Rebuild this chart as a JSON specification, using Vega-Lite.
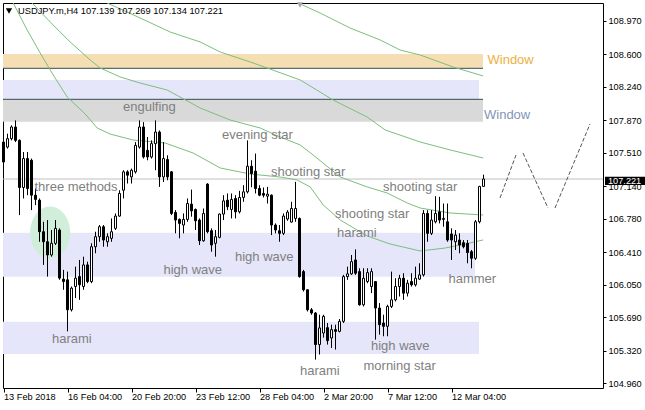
{
  "$schema": "https://vega.github.io/schema/vega-lite/v6.json",
  "width": 600,
  "height": 385,
  "autosize": {"type": "none"},
  "padding": {"left": 3, "top": 3, "right": 42, "bottom": 22},
  "background": "white",
  "config": {"view": {"stroke": "black", "strokeWidth": 1}, "axis": {"title": null, "grid": false}, "scale": {"continuousPadding": 0}},
  "datasets": {
    "zones": [
      {"x": -0.125, "x2": 119.875, "y": 108.603, "y2": 108.445, "k": "wheat"},
      {"x": -0.125, "x2": 118.875, "y": 108.316, "y2": 108.102, "k": "lav"},
      {"x": -0.125, "x2": 119.875, "y": 108.102, "y2": 107.855, "k": "gray"},
      {"x": -0.125, "x2": 117.875, "y": 106.627, "y2": 106.141, "k": "lav"},
      {"x": -0.125, "x2": 118.875, "y": 105.643, "y2": 105.286, "k": "lav"}
    ],
    "levels": [
      {"x": -0.125, "x2": 119.875, "y": 108.445},
      {"x": -0.125, "x2": 119.875, "y": 108.102}
    ],
    "ellipse": [{"x": 11.65, "y": 106.63}],
    "price": [{"x": -0.125, "x2": 149.875, "y": 107.221}],
    "ma": [
      {"s": "a", "x": 1.675, "y": 109.255}, {"s": "a", "x": 2.425, "y": 109.167}, {"s": "a", "x": 5.925, "y": 108.868}, {"s": "a", "x": 9.175, "y": 108.614}, {"s": "a", "x": 12.425, "y": 108.371}, {"s": "a", "x": 15.925, "y": 108.128}, {"s": "a", "x": 20.425, "y": 107.94}, {"s": "a", "x": 23.425, "y": 107.785}, {"s": "a", "x": 26.675, "y": 107.718}, {"s": "a", "x": 32.425, "y": 107.652}, {"s": "a", "x": 40.425, "y": 107.619}, {"s": "a", "x": 47.425, "y": 107.508}, {"s": "a", "x": 54.175, "y": 107.343}, {"s": "a", "x": 61.675, "y": 107.276}, {"s": "a", "x": 69.175, "y": 107.243}, {"s": "a", "x": 73.425, "y": 107.21}, {"s": "a", "x": 76.675, "y": 107.133}, {"s": "a", "x": 79.925, "y": 106.934}, {"s": "a", "x": 84.175, "y": 106.768}, {"s": "a", "x": 90.925, "y": 106.591}, {"s": "a", "x": 96.675, "y": 106.502}, {"s": "a", "x": 104.175, "y": 106.425}, {"s": "a", "x": 110.425, "y": 106.458}, {"s": "a", "x": 115.425, "y": 106.502}, {"s": "a", "x": 119.925, "y": 106.547},
      {"s": "b", "x": 5.425, "y": 109.255}, {"s": "b", "x": 7.175, "y": 109.167}, {"s": "b", "x": 11.675, "y": 108.957}, {"s": "b", "x": 16.675, "y": 108.736}, {"s": "b", "x": 21.675, "y": 108.537}, {"s": "b", "x": 24.175, "y": 108.448}, {"s": "b", "x": 29.175, "y": 108.349}, {"s": "b", "x": 34.175, "y": 108.282}, {"s": "b", "x": 40.925, "y": 108.205}, {"s": "b", "x": 49.175, "y": 108.006}, {"s": "b", "x": 56.675, "y": 107.873}, {"s": "b", "x": 64.175, "y": 107.785}, {"s": "b", "x": 69.175, "y": 107.685}, {"s": "b", "x": 74.175, "y": 107.597}, {"s": "b", "x": 77.425, "y": 107.486}, {"s": "b", "x": 84.175, "y": 107.243}, {"s": "b", "x": 90.925, "y": 107.133}, {"s": "b", "x": 95.925, "y": 107.066}, {"s": "b", "x": 100.925, "y": 106.956}, {"s": "b", "x": 104.175, "y": 106.9}, {"s": "b", "x": 111.675, "y": 106.845}, {"s": "b", "x": 119.925, "y": 106.823},
      {"s": "c", "x": 22.95, "y": 109.255}, {"s": "c", "x": 25.925, "y": 109.167}, {"s": "c", "x": 34.175, "y": 109.001}, {"s": "c", "x": 41.675, "y": 108.846}, {"s": "c", "x": 49.175, "y": 108.736}, {"s": "c", "x": 54.175, "y": 108.625}, {"s": "c", "x": 61.675, "y": 108.515}, {"s": "c", "x": 65.925, "y": 108.448}, {"s": "c", "x": 74.175, "y": 108.316}, {"s": "c", "x": 82.425, "y": 108.094}, {"s": "c", "x": 90.925, "y": 107.906}, {"s": "c", "x": 95.425, "y": 107.763}, {"s": "c", "x": 104.175, "y": 107.63}, {"s": "c", "x": 111.675, "y": 107.542}, {"s": "c", "x": 119.925, "y": 107.453},
      {"s": "d", "x": 70.425, "y": 109.255}, {"s": "d", "x": 73.675, "y": 109.167}, {"s": "d", "x": 79.175, "y": 109.056}, {"s": "d", "x": 86.675, "y": 108.89}, {"s": "d", "x": 94.175, "y": 108.758}, {"s": "d", "x": 99.175, "y": 108.647}, {"s": "d", "x": 104.175, "y": 108.592}, {"s": "d", "x": 112.425, "y": 108.459}, {"s": "d", "x": 119.925, "y": 108.36}
    ],
    "candles": [
      {"x": 0, "o": 107.629, "h": 107.728, "l": 107.392, "c": 107.409},
      {"x": 1, "o": 107.574, "h": 107.722, "l": 107.557, "c": 107.667},
      {"x": 2, "o": 107.667, "h": 107.814, "l": 107.648, "c": 107.796},
      {"x": 3, "o": 107.796, "h": 107.869, "l": 107.629, "c": 107.648},
      {"x": 4, "o": 107.648, "h": 107.66, "l": 106.822, "c": 107.127},
      {"x": 5, "o": 107.127, "h": 107.519, "l": 107.006, "c": 107.447},
      {"x": 6, "o": 107.447, "h": 107.519, "l": 107.042, "c": 107.116},
      {"x": 7, "o": 107.428, "h": 107.447, "l": 106.877, "c": 107.042},
      {"x": 8, "o": 107.042, "h": 107.116, "l": 106.932, "c": 106.995},
      {"x": 9, "o": 106.987, "h": 107.006, "l": 106.527, "c": 106.638},
      {"x": 10, "o": 106.638, "h": 106.748, "l": 106.271, "c": 106.527},
      {"x": 11, "o": 106.527, "h": 106.767, "l": 106.142, "c": 106.381},
      {"x": 12, "o": 106.381, "h": 106.657, "l": 106.362, "c": 106.51},
      {"x": 13, "o": 106.51, "h": 106.767, "l": 106.491, "c": 106.675},
      {"x": 14, "o": 106.657, "h": 106.675, "l": 106.106, "c": 106.125},
      {"x": 15, "o": 106.114, "h": 106.216, "l": 105.996, "c": 106.087},
      {"x": 16, "o": 106.106, "h": 106.197, "l": 105.536, "c": 105.775},
      {"x": 17, "o": 105.775, "h": 106.032, "l": 105.756, "c": 106.014},
      {"x": 18, "o": 106.032, "h": 106.252, "l": 105.904, "c": 106.125},
      {"x": 19, "o": 106.142, "h": 106.326, "l": 105.885, "c": 106.051},
      {"x": 20, "o": 106.032, "h": 106.362, "l": 105.996, "c": 106.271},
      {"x": 21, "o": 106.271, "h": 106.307, "l": 106.069, "c": 106.087},
      {"x": 22, "o": 106.087, "h": 106.51, "l": 106.069, "c": 106.472},
      {"x": 23, "o": 106.472, "h": 106.638, "l": 106.4, "c": 106.583},
      {"x": 24, "o": 106.583, "h": 106.712, "l": 106.527, "c": 106.693},
      {"x": 25, "o": 106.693, "h": 106.712, "l": 106.472, "c": 106.546},
      {"x": 26, "o": 106.527, "h": 106.62, "l": 106.472, "c": 106.583},
      {"x": 27, "o": 106.565, "h": 106.785, "l": 106.527, "c": 106.638},
      {"x": 28, "o": 106.675, "h": 106.84, "l": 106.657, "c": 106.811},
      {"x": 29, "o": 106.811, "h": 107.097, "l": 106.804, "c": 107.061},
      {"x": 30, "o": 107.097, "h": 107.318, "l": 107.006, "c": 107.3},
      {"x": 31, "o": 107.3, "h": 107.318, "l": 107.171, "c": 107.263},
      {"x": 32, "o": 107.244, "h": 107.336, "l": 107.171, "c": 107.318},
      {"x": 33, "o": 107.3, "h": 107.629, "l": 107.281, "c": 107.593},
      {"x": 34, "o": 107.574, "h": 107.869, "l": 107.557, "c": 107.796},
      {"x": 35, "o": 107.796, "h": 107.85, "l": 107.447, "c": 107.465},
      {"x": 36, "o": 107.538, "h": 107.685, "l": 107.428, "c": 107.465},
      {"x": 37, "o": 107.465, "h": 107.648, "l": 107.447, "c": 107.612},
      {"x": 38, "o": 107.612, "h": 107.869, "l": 107.318, "c": 107.74},
      {"x": 39, "o": 107.74, "h": 107.758, "l": 107.134, "c": 107.244},
      {"x": 40, "o": 107.244, "h": 107.629, "l": 107.189, "c": 107.447},
      {"x": 41, "o": 107.436, "h": 107.483, "l": 107.207, "c": 107.244},
      {"x": 42, "o": 107.3, "h": 107.31, "l": 106.822, "c": 106.84},
      {"x": 43, "o": 106.851, "h": 106.877, "l": 106.62, "c": 106.767},
      {"x": 44, "o": 106.774, "h": 106.785, "l": 106.565, "c": 106.73},
      {"x": 45, "o": 106.712, "h": 106.84, "l": 106.62, "c": 106.774},
      {"x": 46, "o": 106.774, "h": 107.006, "l": 106.748, "c": 106.95},
      {"x": 47, "o": 106.943, "h": 107.104, "l": 106.804, "c": 106.869},
      {"x": 48, "o": 106.884, "h": 106.895, "l": 106.657, "c": 106.759},
      {"x": 49, "o": 106.767, "h": 106.785, "l": 106.491, "c": 106.538},
      {"x": 50, "o": 106.538, "h": 106.895, "l": 106.527, "c": 106.84},
      {"x": 51, "o": 107.164, "h": 107.175, "l": 106.62, "c": 106.638},
      {"x": 52, "o": 106.649, "h": 106.675, "l": 106.417, "c": 106.491},
      {"x": 53, "o": 106.51, "h": 106.657, "l": 106.362, "c": 106.583},
      {"x": 54, "o": 106.576, "h": 106.84, "l": 106.565, "c": 106.833},
      {"x": 55, "o": 106.833, "h": 107.042, "l": 106.767, "c": 106.979},
      {"x": 56, "o": 106.987, "h": 107.061, "l": 106.877, "c": 106.914},
      {"x": 57, "o": 106.884, "h": 107.061, "l": 106.785, "c": 106.995},
      {"x": 58, "o": 107.006, "h": 107.042, "l": 106.785, "c": 106.858},
      {"x": 59, "o": 106.858, "h": 107.09, "l": 106.84, "c": 107.017},
      {"x": 60, "o": 107.017, "h": 107.152, "l": 106.969, "c": 107.079},
      {"x": 61, "o": 107.079, "h": 107.648, "l": 107.061, "c": 107.362},
      {"x": 62, "o": 107.362, "h": 107.428, "l": 107.13, "c": 107.281},
      {"x": 63, "o": 107.307, "h": 107.502, "l": 107.061, "c": 107.116},
      {"x": 64, "o": 107.116, "h": 107.152, "l": 107.031, "c": 107.042},
      {"x": 65, "o": 107.061, "h": 107.127, "l": 107.017, "c": 107.042},
      {"x": 66, "o": 107.031, "h": 107.134, "l": 106.95, "c": 107.053},
      {"x": 67, "o": 107.042, "h": 107.05, "l": 106.601, "c": 106.712},
      {"x": 68, "o": 106.712, "h": 106.73, "l": 106.62, "c": 106.657},
      {"x": 69, "o": 106.649, "h": 106.712, "l": 106.527, "c": 106.62},
      {"x": 70, "o": 106.62, "h": 106.84, "l": 106.601, "c": 106.811},
      {"x": 71, "o": 106.778, "h": 106.877, "l": 106.759, "c": 106.855},
      {"x": 72, "o": 106.745, "h": 106.969, "l": 106.738, "c": 106.895},
      {"x": 73, "o": 106.785, "h": 107.189, "l": 106.748, "c": 106.895},
      {"x": 74, "o": 106.785, "h": 106.795, "l": 106.13, "c": 106.142},
      {"x": 75, "o": 106.197, "h": 106.216, "l": 105.977, "c": 105.996},
      {"x": 76, "o": 105.996, "h": 106.0, "l": 105.756, "c": 105.775},
      {"x": 77, "o": 105.775, "h": 105.794, "l": 105.72, "c": 105.739},
      {"x": 78, "o": 105.739, "h": 105.75, "l": 105.224, "c": 105.39},
      {"x": 79, "o": 105.39, "h": 105.72, "l": 105.28, "c": 105.574},
      {"x": 80, "o": 105.518, "h": 105.72, "l": 105.467, "c": 105.702},
      {"x": 81, "o": 105.577, "h": 105.629, "l": 105.39, "c": 105.434},
      {"x": 82, "o": 105.463, "h": 105.61, "l": 105.353, "c": 105.555},
      {"x": 83, "o": 105.555, "h": 105.61, "l": 105.335, "c": 105.536},
      {"x": 84, "o": 105.536, "h": 105.673, "l": 105.525, "c": 105.647},
      {"x": 85, "o": 105.647, "h": 106.161, "l": 105.629, "c": 106.142},
      {"x": 86, "o": 106.142, "h": 106.252, "l": 106.106, "c": 106.172},
      {"x": 87, "o": 106.172, "h": 106.381, "l": 106.161, "c": 106.307},
      {"x": 88, "o": 106.326, "h": 106.443, "l": 106.161, "c": 106.179},
      {"x": 89, "o": 106.197, "h": 106.234, "l": 105.82, "c": 105.83},
      {"x": 90, "o": 105.83, "h": 106.234, "l": 105.812, "c": 106.124},
      {"x": 91, "o": 106.087, "h": 106.234, "l": 106.069, "c": 106.186},
      {"x": 92, "o": 106.032, "h": 106.234, "l": 105.959, "c": 106.197},
      {"x": 93, "o": 106.087, "h": 106.09, "l": 105.445, "c": 105.794},
      {"x": 94, "o": 105.794, "h": 105.849, "l": 105.5, "c": 105.61},
      {"x": 95, "o": 105.629, "h": 105.72, "l": 105.482, "c": 105.592},
      {"x": 96, "o": 105.592, "h": 105.83, "l": 105.482, "c": 105.812},
      {"x": 97, "o": 105.812, "h": 106.197, "l": 105.794, "c": 105.885},
      {"x": 98, "o": 105.885, "h": 106.124, "l": 105.867, "c": 106.032},
      {"x": 99, "o": 106.032, "h": 106.161, "l": 105.922, "c": 106.124},
      {"x": 100, "o": 106.124, "h": 106.179, "l": 105.885, "c": 105.959},
      {"x": 101, "o": 105.959, "h": 106.106, "l": 105.922, "c": 106.069},
      {"x": 102, "o": 106.087, "h": 106.179, "l": 106.032, "c": 106.051},
      {"x": 103, "o": 106.051, "h": 106.252, "l": 106.032, "c": 106.124},
      {"x": 104, "o": 106.114, "h": 106.289, "l": 106.106, "c": 106.161},
      {"x": 105, "o": 106.161, "h": 106.877, "l": 106.142, "c": 106.84},
      {"x": 106, "o": 106.84, "h": 106.877, "l": 106.527, "c": 106.62},
      {"x": 107, "o": 106.62, "h": 106.877, "l": 106.601, "c": 106.767},
      {"x": 108, "o": 106.748, "h": 107.031, "l": 106.73, "c": 106.84},
      {"x": 109, "o": 106.858, "h": 107.024, "l": 106.73, "c": 106.767},
      {"x": 110, "o": 106.774, "h": 106.95, "l": 106.693, "c": 106.785},
      {"x": 111, "o": 106.748, "h": 106.95, "l": 106.527, "c": 106.546},
      {"x": 112, "o": 106.613, "h": 106.675, "l": 106.326, "c": 106.546},
      {"x": 113, "o": 106.527, "h": 106.657, "l": 106.436, "c": 106.601},
      {"x": 114, "o": 106.546, "h": 106.62, "l": 106.4, "c": 106.491},
      {"x": 115, "o": 106.517, "h": 106.546, "l": 106.454, "c": 106.472},
      {"x": 116, "o": 106.51, "h": 106.546, "l": 106.289, "c": 106.407},
      {"x": 117, "o": 106.417, "h": 106.436, "l": 106.234, "c": 106.344},
      {"x": 118, "o": 106.344, "h": 106.767, "l": 106.326, "c": 106.748},
      {"x": 119, "o": 106.748, "h": 107.145, "l": 106.73, "c": 107.139},
      {"x": 120, "o": 107.139, "h": 107.269, "l": 107.134, "c": 107.221}
    ],
    "fc": [
      {"seg": 1, "x": 124.125, "y": 107.011}, {"seg": 1, "x": 128.125, "y": 107.486},
      {"seg": 2, "x": 129.875, "y": 107.508}, {"seg": 2, "x": 136.125, "y": 106.9},
      {"seg": 3, "x": 137.875, "y": 106.9}, {"seg": 3, "x": 146.625, "y": 107.829}
    ],
    "notes": [
      {"t": "engulfing", "x": 29.875, "y": 108.017, "k": "n"},
      {"t": "evening star", "x": 54.625, "y": 107.707, "k": "n"},
      {"t": "shooting star", "x": 66.875, "y": 107.298, "k": "n"},
      {"t": "three methods", "x": 7.75, "y": 107.133, "k": "n"},
      {"t": "shooting star", "x": 94.875, "y": 107.133, "k": "n"},
      {"t": "shooting star", "x": 82.875, "y": 106.834, "k": "n"},
      {"t": "harami", "x": 83.375, "y": 106.624, "k": "n"},
      {"t": "high wave", "x": 40.0, "y": 106.215, "k": "n"},
      {"t": "high wave", "x": 57.875, "y": 106.359, "k": "n"},
      {"t": "hammer", "x": 111.25, "y": 106.115, "k": "n"},
      {"t": "harami", "x": 12.125, "y": 105.452, "k": "n"},
      {"t": "high wave", "x": 91.875, "y": 105.375, "k": "n"},
      {"t": "morning star", "x": 90.0, "y": 105.154, "k": "n"},
      {"t": "harami", "x": 74.125, "y": 105.098, "k": "n"},
      {"t": "Window", "x": 121.0, "y": 108.542, "k": "wo"},
      {"t": "Window", "x": 120.125, "y": 107.929, "k": "wb"}
    ],
    "header": [{"t": "USDJPY.m,H4  107.139 107.269 107.134 107.221", "x": 3.625, "y": 109.084}],
    "markers": [
      {"x": 1.375, "y": 109.078, "k": "hdr"},
      {"x": 74.125, "y": 109.145, "k": "shift"}
    ],
    "pbox": [{"x": 150.375, "x2": 161.0, "y": 107.246, "y2": 107.155}],
    "plabel": [{"x": 151.125, "y": 107.2, "t": "107.221"}]
  },
  "encoding": {
    "x": {"field": "x", "type": "quantitative", "scale": {"domain": [-0.125, 149.875], "nice": false, "zero": false, "padding": 0},
      "axis": {"orient": "bottom", "values": [0, 16, 32, 48, 64, 80, 96, 112],
        "labelExpr": "['13 Feb 2018','16 Feb 04:00','20 Feb 20:00','23 Feb 12:00','28 Feb 04:00','2 Mar 20:00','7 Mar 12:00','12 Mar 04:00'][round(datum.value/16)]",
        "domain": false, "ticks": true, "tickSize": 4, "tickColor": "black", "labelAlign": "left", "labelFont": "Liberation Sans", "labelFontSize": 9.2, "labelColor": "black", "labelPadding": 0, "labelFlush": false, "labelOverlap": false, "labelBound": false, "labelDx": -1}},
    "y": {"field": "y", "type": "quantitative", "scale": {"domain": [104.91, 109.167], "nice": false, "zero": false, "padding": 0},
      "axis": {"orient": "right", "values": [108.97, 108.6, 108.24, 107.87, 107.51, 107.14, 106.78, 106.41, 106.05, 105.69, 105.32, 104.96], "format": ".3f",
        "domain": false, "tickSize": 3, "tickColor": "black", "labelFont": "Liberation Sans", "labelFontSize": 9.2, "labelColor": "black", "labelPadding": 2, "labelOverlap": false, "labelBound": false, "labelFlush": false}}
  },
  "layer": [
    {
      "data": {"name": "zones"},
      "mark": {"type": "rect", "clip": true},
      "encoding": {
        "x2": {"field": "x2"},
        "y2": {"field": "y2"},
        "fill": {"condition": [{"test": "datum.k == 'wheat'", "value": "#F5DEB3"}, {"test": "datum.k == 'gray'", "value": "#D9D9D9"}], "value": "#E6E6FA"}
      }
    },
    {
      "data": {"name": "levels"},
      "mark": {"type": "rule", "color": "#2F4F4F", "strokeWidth": 1, "clip": true},
      "encoding": {"x2": {"field": "x2"}}
    },
    {
      "data": {"name": "ellipse"},
      "mark": {"type": "point", "shape": "M-0.77,0A0.77,1,0,1,0,0.77,0A0.77,1,0,1,0,-0.77,0Z", "size": 2704, "filled": true, "color": "#CFEDD8", "opacity": 0.95, "strokeWidth": 0}
    },
    {
      "data": {"name": "price"},
      "mark": {"type": "rule", "color": "#C0C0C0", "strokeWidth": 1},
      "encoding": {"x2": {"field": "x2"}}
    },
    {
      "data": {"name": "ma"},
      "mark": {"type": "line", "color": "#7DBE7D", "strokeWidth": 1, "clip": true},
      "encoding": {"detail": {"field": "s", "type": "nominal"}}
    },
    {
      "data": {"name": "candles"},
      "mark": {"type": "rule", "color": "black", "strokeWidth": 1},
      "encoding": {
        "y": {"field": "l", "type": "quantitative", "scale": {"domain": [104.91, 109.167], "nice": false, "zero": false, "padding": 0},
          "axis": {"orient": "right", "values": [108.97, 108.6, 108.24, 107.87, 107.51, 107.14, 106.78, 106.41, 106.05, 105.69, 105.32, 104.96], "format": ".3f",
            "domain": false, "tickSize": 3, "tickColor": "black", "labelFont": "Liberation Sans", "labelFontSize": 9.2, "labelColor": "black", "labelPadding": 2, "labelOverlap": false, "labelBound": false, "labelFlush": false}},
        "y2": {"field": "h"}
      }
    },
    {
      "data": {"name": "candles"},
      "mark": {"type": "bar", "orient": "vertical", "size": 2, "stroke": "black", "strokeWidth": 1},
      "encoding": {
        "y": {"field": "o", "type": "quantitative", "scale": {"domain": [104.91, 109.167], "nice": false, "zero": false, "padding": 0},
          "axis": {"orient": "right", "values": [108.97, 108.6, 108.24, 107.87, 107.51, 107.14, 106.78, 106.41, 106.05, 105.69, 105.32, 104.96], "format": ".3f",
            "domain": false, "tickSize": 3, "tickColor": "black", "labelFont": "Liberation Sans", "labelFontSize": 9.2, "labelColor": "black", "labelPadding": 2, "labelOverlap": false, "labelBound": false, "labelFlush": false}},
        "y2": {"field": "c"},
        "fill": {"condition": {"test": "datum.c >= datum.o", "value": "white"}, "value": "black"}
      }
    },
    {
      "data": {"name": "fc"},
      "mark": {"type": "line", "color": "#555555", "strokeWidth": 1, "strokeDash": [4, 2]},
      "encoding": {"detail": {"field": "seg", "type": "nominal"}}
    },
    {
      "data": {"name": "notes"},
      "mark": {"type": "text", "align": "left", "baseline": "middle", "font": "Liberation Sans", "fontSize": 13},
      "encoding": {
        "text": {"field": "t"},
        "fill": {"condition": [{"test": "datum.k == 'wo'", "value": "#EDB040"}, {"test": "datum.k == 'wb'", "value": "#8494B8"}], "value": "#808080"}
      }
    },
    {
      "data": {"name": "header"},
      "mark": {"type": "text", "align": "left", "baseline": "middle", "font": "Liberation Sans", "fontSize": 9.3, "color": "black"},
      "encoding": {"text": {"field": "t"}}
    },
    {
      "data": {"name": "markers"},
      "mark": {"type": "point", "shape": "triangle-down", "size": 40, "filled": true, "opacity": 1},
      "encoding": {
        "color": {"condition": {"test": "datum.k == 'hdr'", "value": "#000000"}, "value": "#A8A8A8"}
      }
    },
    {
      "data": {"name": "pbox"},
      "mark": {"type": "rect", "color": "black"},
      "encoding": {"x2": {"field": "x2"}, "y2": {"field": "y2"}}
    },
    {
      "data": {"name": "plabel"},
      "mark": {"type": "text", "align": "left", "baseline": "middle", "font": "Liberation Sans", "fontSize": 9.2, "color": "white"},
      "encoding": {"text": {"field": "t"}}
    }
  ]
}
